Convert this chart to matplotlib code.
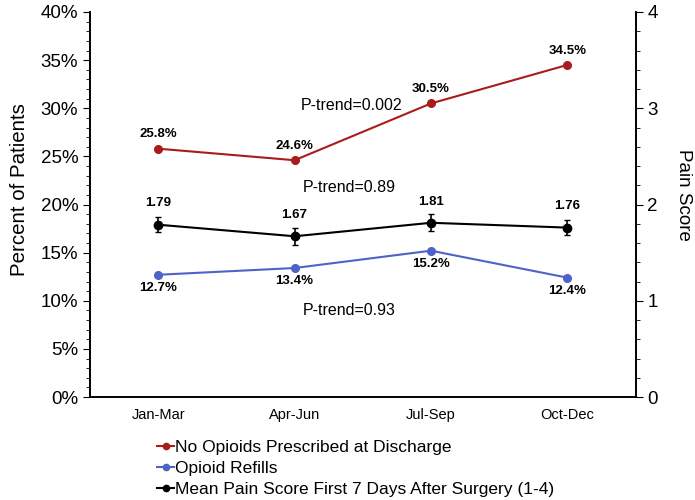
import matplotlib
matplotlib.use("Agg")
import matplotlib.pyplot as plt
from matplotlib.lines import Line2D
from matplotlib.ticker import MultipleLocator, PercentFormatter

plt.rcParams['font.family'] = ['Liberation Sans', 'DejaVu Sans']

quarters = ['Jan-Mar', 'Apr-Jun', 'Jul-Sep', 'Oct-Dec']
no_opioids = [25.8, 24.6, 30.5, 34.5]
refills = [12.7, 13.4, 15.2, 12.4]
pain = [1.79, 1.67, 1.81, 1.76]
pain_err = [0.08, 0.09, 0.09, 0.08]

red = '#A81C1C'
blue = '#4F63C6'

fig = plt.figure(figsize=(6.95, 5.0), dpi=100)
ax = fig.add_axes([0.1295, 0.206, 0.785, 0.770])
ax2 = ax.twinx()

x = list(range(len(quarters)))
ax.plot(x, no_opioids, color=red, marker='o', ms=5.5, lw=1.5)
ax.plot(x, refills, color=blue, marker='o', ms=5.5, lw=1.5)
ax2.errorbar(x, pain, yerr=pain_err, color='black', marker='o', ms=6,
             lw=1.5, elinewidth=1.2, capsize=2)

for xi, v in zip(x, no_opioids):
    ax.annotate(f'{v:.1f}%', (xi, v), xytext=(0, 6), textcoords='offset points',
                ha='center', va='bottom', fontsize=9.5, fontweight='bold')
for xi, v in zip(x, refills):
    ax.annotate(f'{v:.1f}%', (xi, v), xytext=(0, -5), textcoords='offset points',
                ha='center', va='top', fontsize=9.5, fontweight='bold')
for xi, v in zip(x, pain):
    ax2.annotate(f'{v:.2f}', (xi, v), xytext=(0, 11), textcoords='offset points',
                 ha='center', va='bottom', fontsize=9.5, fontweight='bold')

ax.text(1.42, 30.3, 'P-trend=0.002', ha='center', va='center', fontsize=11.5)
ax.text(1.40, 21.8, 'P-trend=0.89', ha='center', va='center', fontsize=11.5)
ax.text(1.40, 9.0, 'P-trend=0.93', ha='center', va='center', fontsize=11.5)

ax.set_xlim(-0.5, 3.5)
ax.set_ylim(0, 40)
ax2.set_ylim(0, 4)
ax.set_xticks(x)
ax.set_xticklabels(quarters, fontsize=10.5)
ax.tick_params(axis='x', length=0, pad=8)

ax.yaxis.set_major_locator(MultipleLocator(5))
ax.yaxis.set_minor_locator(MultipleLocator(1))
ax.yaxis.set_major_formatter(PercentFormatter(decimals=0))
ax.tick_params(axis='y', which='major', labelsize=13.5, length=5, direction='out')
ax.tick_params(axis='y', which='minor', length=3, direction='out')

ax2.yaxis.set_major_locator(MultipleLocator(1))
ax2.yaxis.set_minor_locator(MultipleLocator(0.2))
ax2.tick_params(axis='y', which='major', labelsize=13.5, length=5, direction='out')
ax2.tick_params(axis='y', which='minor', length=3, direction='out')

for a in (ax, ax2):
    a.spines['top'].set_visible(False)
    for s in ('left', 'right', 'bottom'):
        a.spines[s].set_linewidth(1.2)

ax.set_ylabel('Percent of Patients', fontsize=14.8, va='center', ha='center')
ax.yaxis.set_label_coords(-0.13, 0.54)
ax2.set_ylabel('Pain Score', fontsize=13.5, rotation=270, va='center', ha='center')
ax2.yaxis.set_label_coords(1.088, 0.525)

handles = [Line2D([], [], color=c, marker='o', ms=4.5, lw=1.5)
           for c in (red, blue, 'black')]
fig.legend(handles,
           ['No Opioids Prescribed at Discharge', 'Opioid Refills',
            'Mean Pain Score First 7 Days After Surgery (1-4)'],
           loc='upper left', bbox_to_anchor=(0.226, 0.12), frameon=False,
           fontsize=12.5, handlelength=1.0, handletextpad=0.05,
           labelspacing=0.33, borderaxespad=0, borderpad=0)

fig.savefig('out.png', dpi=100)
